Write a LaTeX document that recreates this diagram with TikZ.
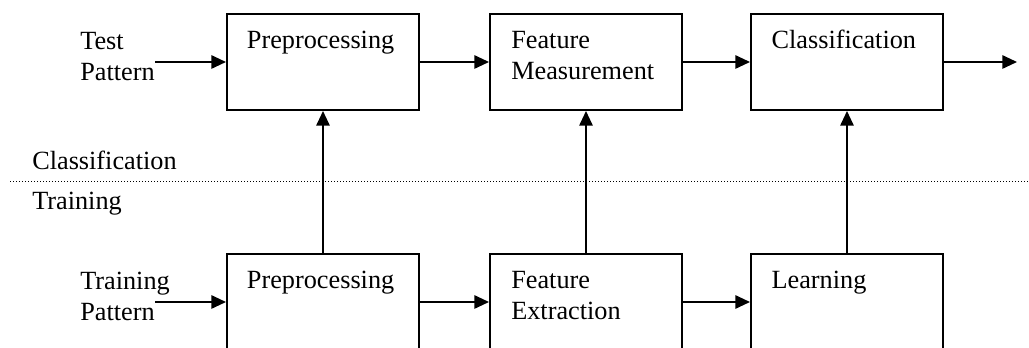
\documentclass[tikz,border=0pt]{standalone}
\usepackage{fontspec}
\setmainfont{Liberation Serif}
\usetikzlibrary{arrows.meta}
\tikzset{
  stage/.style={draw, line width=1.5pt, minimum width=144pt, minimum height=72pt, inner sep=0pt},
  lbl/.style={font=\fontsize{19.7pt}{23.25pt}\selectfont, inner sep=0pt, anchor=base west,
              align=left, text width=150pt},
  flow/.style={line width=1.4pt, -{Triangle[length=11pt,width=10pt]}},
  divider/.style={line width=0.75pt, dash pattern=on 0.75pt off 1.5pt}
}
\begin{document}
\begin{tikzpicture}[x=0.75pt, y=-0.75pt]
  \useasboundingbox (0,0) rectangle (1029,348);
  \clip (0,0) rectangle (1029,348);

  % classification chain
  \node[stage] (t1) at (323,62) {};
  \node[stage] (t2) at (586,62) {};
  \node[stage] (t3) at (847,62) {};
  \node[lbl] (t1txt) at ([xshift=15.5pt,yshift=-27pt]t1.north west) {Preprocessing};
  \node[lbl] (t2txt) at ([xshift=16.5pt,yshift=-27pt]t2.north west) {Feature\\Measurement};
  \node[lbl] (t3txt) at ([xshift=16pt,yshift=-27pt]t3.north west) {Classification};

  % training chain (boxes run off the lower edge)
  \node[stage] (b1) at (323,302) {};
  \node[stage] (b2) at (586,302) {};
  \node[stage] (b3) at (847,302) {};
  \node[lbl] (b1txt) at ([xshift=15.5pt,yshift=-27pt]b1.north west) {Preprocessing};
  \node[lbl] (b2txt) at ([xshift=16.5pt,yshift=-27pt]b2.north west) {Feature\\Extraction};
  \node[lbl] (b3txt) at ([xshift=16pt,yshift=-27pt]b3.north west) {Learning};

  % inputs and output
  \node[lbl] (testin) at (80,50) {Test\\Pattern};
  \node[lbl] (trainin) at (80,290) {Training\\Pattern};
  \coordinate (tin) at (155,62);
  \coordinate (bin) at (155,302);
  \coordinate (tout) at (1017,62);

  \draw[flow] (tin) -- (t1.west);
  \draw[flow] (t1.east) -- (t2.west);
  \draw[flow] (t2.east) -- (t3.west);
  \draw[flow] (t3.east) -- (tout);

  \draw[flow] (bin) -- (b1.west);
  \draw[flow] (b1.east) -- (b2.west);
  \draw[flow] (b2.east) -- (b3.west);

  \draw[flow] (b1.north) -- (t1.south);
  \draw[flow] (b2.north) -- (t2.south);
  \draw[flow] (b3.north) -- (t3.south);

  % phase divider
  \coordinate (dl) at (10,182);
  \coordinate (dr) at (1029,182);
  \draw[divider] (dl) -- (dr);
  \node[lbl] (cls) at (32,170) {Classification};
  \node[lbl] (trn) at (32,210) {Training};
\end{tikzpicture}
\end{document}
